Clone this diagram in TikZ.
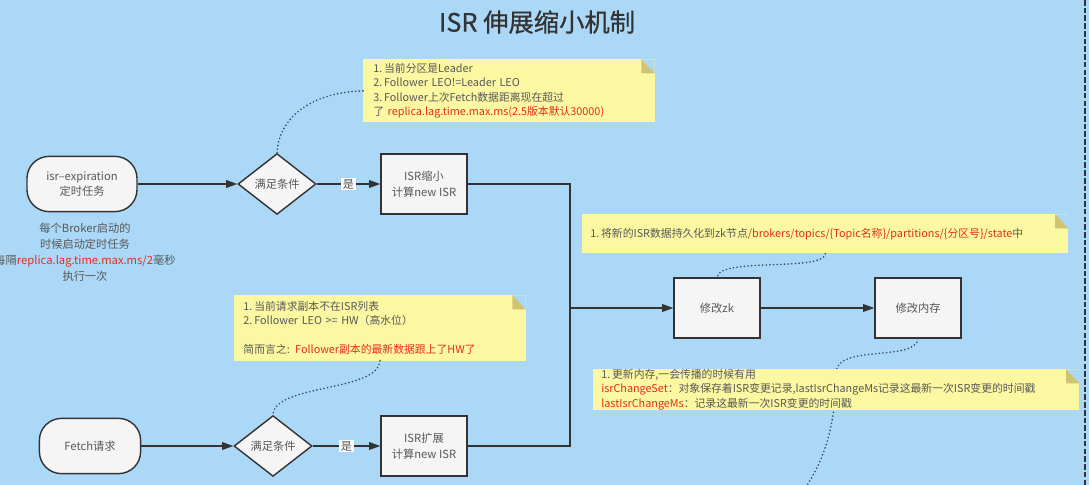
\documentclass[tikz,border=0pt]{standalone}
\usepackage{fontspec}
\setmainfont{Noto Sans CJK SC}
\usetikzlibrary{shapes.geometric,arrows.meta}

\definecolor{bgblue}{RGB}{170,216,246}
\definecolor{notefill}{RGB}{252,248,162}
\definecolor{foldfill}{RGB}{206,196,116}
\definecolor{nodefill}{RGB}{245,245,245}
\definecolor{linegray}{RGB}{51,51,51}
\definecolor{textgray}{RGB}{88,88,88}
\definecolor{hotred}{RGB}{230,45,30}
\definecolor{dotblue}{RGB}{60,75,95}

\tikzset{
  terminal/.style={draw=linegray, line width=1pt, fill=nodefill, rounded corners=0.55cm,
    minimum height=1.38cm, align=center, text=textgray, font=\fontsize{8}{11}\selectfont},
  cond/.style={diamond, draw=linegray, line width=1pt, fill=nodefill, inner sep=0pt,
    minimum width=1.95cm, minimum height=1.52cm, text=textgray, font=\fontsize{8}{11}\selectfont},
  procbox/.style={draw=linegray, line width=1pt, fill=nodefill, minimum width=2.15cm,
    minimum height=1.5cm, align=center, text=textgray, font=\fontsize{8}{11}\selectfont},
  notebox/.style={fill=notefill, anchor=north west, align=left, inner ysep=0pt,
    text=textgray, font=\fontsize{7.7}{10.2}\selectfont,
    path picture={
      \fill[bgblue] ([xshift=-0.33cm]path picture bounding box.north east)
        -- (path picture bounding box.north east)
        -- ([yshift=-0.35cm]path picture bounding box.north east) -- cycle;
      \fill[foldfill] ([xshift=-0.33cm]path picture bounding box.north east)
        -- ([xshift=-0.33cm,yshift=-0.35cm]path picture bounding box.north east)
        -- ([yshift=-0.35cm]path picture bounding box.north east) -- cycle;}},
  flow/.style={draw=linegray, line width=1pt, -{Triangle[length=8pt,width=5.5pt]}},
  link/.style={draw=linegray, line width=1pt},
  memo/.style={draw=dotblue, line width=1.3pt, dash pattern=on 0pt off 2.6pt, line cap=round},
  yes/.style={fill=white, inner sep=1pt, text=textgray, font=\fontsize{8}{10}\selectfont}
}

\begin{document}
\begin{tikzpicture}[x=0.025cm, y=-0.025cm]
  %\draw[help lines] (0,0) grid (1089,485);
  \useasboundingbox (0,0) rectangle (1089,485);
  \fill[bgblue] (0,0) rectangle (1089,485);
  \draw[linegray, line width=0.8pt, dash pattern=on 4pt off 1.5pt] (1085,0) -- (1085,485);

  \node[text=linegray, font=\fontsize{18}{21}\selectfont\addfontfeatures{FakeBold=0.6}] (title) at (537,22) {ISR 伸展缩小机制};

  % shrink
  \node[terminal, minimum width=2.75cm] (expire) at (82,184) {isr--expiration\\定时任务};
  \node[align=center, text=textgray, font=\fontsize{8}{11.3}\selectfont] (cronnote) at (85,252)
    {每个Broker启动的\\时候启动定时任务\\每隔\textcolor{hotred}{replica.lag.time.max.ms/2}毫秒\\执行一次};
  \node[cond] (cond1) at (277,184) {满足条件};
  \node[procbox] (shrink) at (424,184) {ISR缩小\\计算new ISR};

  % expand
  \node[terminal, minimum width=2.53cm] (fetch) at (90,446) {Fetch请求};
  \node[cond] (cond2) at (273,446) {满足条件};
  \node[procbox] (expand) at (424,446) {ISR扩展\\计算new ISR};

  \coordinate (join) at (570,308);
  \node[procbox] (zk) at (717,308) {修改zk};
  \node[procbox] (mem) at (918,308) {修改内存};

  \draw[flow] (expire) -- (cond1);
  \draw[flow] (cond1) -- node[yes] {是} (shrink);
  \draw[flow] (fetch) -- (cond2);
  \draw[flow] (cond2) -- node[yes] {是} (expand);
  \draw[link] (shrink.east) -| (join);
  \draw[link] (expand.east) -| (join);
  \draw[flow] (join) -- (zk);
  \draw[flow] (zk) -- (mem);

  % notes
  \node[notebox, inner xsep=0.25cm, text width=6.78cm, minimum height=1.58cm] (note1) at (363,59)
    {1.\,当前分区是Leader\\2.\,Follower LEO!=Leader LEO\\3.\,Follower上次Fetch数据距离现在超过\\了 \textcolor{hotred}{replica.lag.time.max.ms(2.5版本默认30000)}};
  \node[notebox, inner xsep=0.2cm, text width=11.75cm, minimum height=0.98cm] (note2) at (582,214)
    {1.\,将新的ISR数据持久化到zk节点\textcolor{hotred}{/brokers/topics/\{Topic名称\}/partitions/\{分区号\}/state}中};
  \node[notebox, inner xsep=0.23cm, text width=6.82cm, minimum height=1.63cm] (note3) at (234,295)
    {1.\,当前请求副本不在ISR列表\\2.\,Follower LEO >= HW（高水位）\\[10.2pt]简而言之: \textcolor{hotred}{Follower副本的最新数据跟上了HW了}};

  \coordinate (memend) at (806,487);
  \draw[memo] (mem.south) .. controls (915,362) and (838,344) .. (836,372)
    .. controls (836,430) and (822,462) .. (memend);
  \node[notebox, inner xsep=0.2cm, text width=11.75cm, minimum height=1cm] (note4) at (593,369)
    {1.\,更新内存,一会传播的时候有用\\\textcolor{hotred}{isrChangeSet}：对象保存着ISR变更记录,lastIsrChangeMs记录这最新一次ISR变更的时间戳\\\textcolor{hotred}{lastIsrChangeMs}：记录这最新一次ISR变更的时间戳};

  \draw[memo] (note1.west) .. controls (315,92) and (279,115) .. (cond1.north);
  \draw[memo] (note2.south) .. controls (823,272) and (719,257) .. (zk.north);
  \draw[memo] (note3.south) .. controls (378,392) and (274,384) .. (cond2.north);
\end{tikzpicture}
\end{document}
